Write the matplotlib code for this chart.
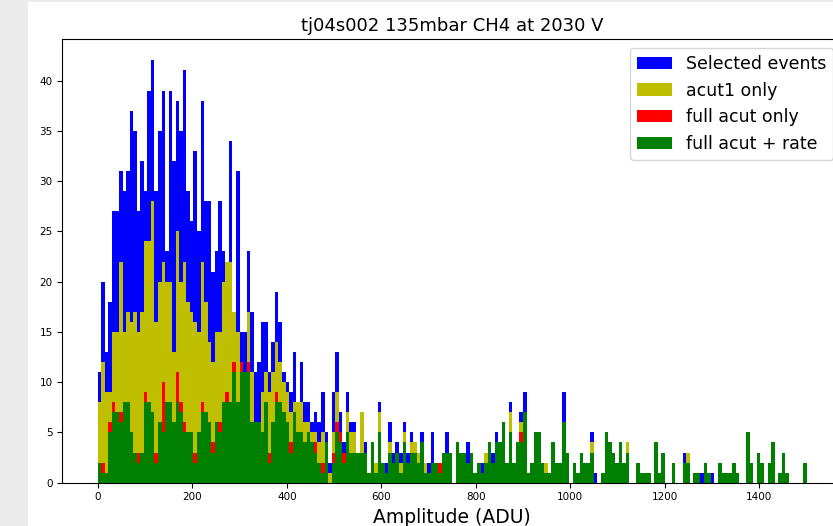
import numpy as np
import matplotlib
matplotlib.use("Agg")
import matplotlib.pyplot as plt
from matplotlib.patches import Rectangle

# histogram binning: 200 bins over 0..1500 ADU
bin_lo, bin_hi, n_bins = 0, 1500, 200

selected = [11,20,13,18,27,27,31,29,31,37,35,27,32,29,39,42,29,35,39,23,
            39,32,38,35,41,29,26,33,25,38,28,28,21,23,28,23,22,34,17,31,
            15,15,23,17,11,12,16,16,11,14,19,16,11,10,9,13,8,12,8,8,
            6,7,6,9,5,2,9,13,7,4,9,6,6,3,7,4,1,4,2,8,
            2,2,6,3,4,3,6,3,5,4,3,5,2,2,5,2,2,3,5,3,
            0,4,3,3,4,3,1,2,2,3,4,3,5,4,6,2,8,2,4,7,
            9,1,2,5,5,2,2,1,4,2,2,9,3,0,2,1,3,2,2,5,
            1,0,1,5,4,3,2,4,2,4,0,0,2,1,1,1,0,4,1,3,
            0,0,2,0,0,3,3,0,1,1,1,2,1,1,0,2,1,1,1,2,
            1,0,0,5,2,0,3,2,0,2,4,0,1,3,1,0,0,0,0,2]

acut1 = [8,12,9,9,15,15,22,15,17,16,17,15,17,24,24,28,16,20,22,20,
         20,13,25,20,22,18,17,16,15,22,18,14,12,15,15,20,22,22,17,15,
         11,11,17,11,6,6,9,11,9,11,14,12,10,9,7,8,8,8,6,6,
         5,5,4,5,4,1,5,9,5,2,7,5,5,3,7,3,1,4,2,7,
         2,1,4,2,3,2,5,2,4,4,3,4,2,1,2,2,2,3,3,3,
         0,4,3,3,2,3,1,2,1,3,4,2,4,4,6,2,7,2,4,6,
         7,1,2,5,5,2,2,1,4,2,2,6,3,0,2,1,3,2,2,4,
         0,0,1,5,4,3,2,4,2,4,0,0,2,1,1,1,0,4,1,3,
         0,0,2,0,0,2,3,0,1,1,0,2,1,0,0,2,1,1,1,2,
         1,0,0,5,2,0,3,2,0,2,4,0,1,3,1,0,0,0,0,2]

full_acut = [2,2,1,6,8,7,7,8,8,5,3,3,3,9,8,7,3,6,10,8,
             8,6,11,8,6,5,5,3,5,8,7,6,4,6,6,8,9,8,12,8,
             12,11,12,6,6,6,5,8,3,6,9,8,7,6,4,7,5,5,4,5,
             4,4,2,2,4,0,3,6,5,3,5,3,3,3,3,3,1,4,1,5,
             2,1,3,2,3,1,4,2,3,3,2,4,1,1,2,2,2,3,3,3,
             0,4,3,3,2,3,1,2,1,2,4,2,4,4,6,2,5,2,4,5,
             7,1,2,5,5,2,1,1,4,2,2,6,3,0,2,1,3,2,2,3,
             0,0,1,5,4,3,2,4,2,3,0,0,2,1,1,1,0,4,1,3,
             0,0,2,0,0,2,2,0,1,1,0,2,1,0,0,2,1,1,1,2,
             1,0,0,5,2,0,3,2,0,2,4,0,1,3,1,0,0,0,0,2]

full_acut_rate = [2,1,1,5,7,7,6,8,8,5,3,2,3,8,8,7,2,6,5,8,
                  8,6,8,7,5,5,5,2,5,7,7,6,3,6,5,8,8,8,11,8,
                  11,11,11,6,6,6,5,8,2,6,8,8,7,6,3,7,5,5,4,5,
                  4,3,2,1,4,0,2,5,4,2,5,3,3,3,3,3,1,4,1,5,
                  2,1,3,2,3,1,4,2,3,3,2,4,1,1,2,2,1,3,3,3,
                  0,4,3,3,2,3,1,2,1,2,4,2,4,4,6,2,5,2,4,4,
                  7,1,2,5,5,2,1,1,4,2,2,6,3,0,2,1,3,2,2,3,
                  0,0,1,5,4,3,2,4,2,3,0,0,2,1,1,1,0,4,1,3,
                  0,0,2,0,0,2,2,0,1,1,0,2,1,0,0,2,1,1,1,2,
                  1,0,0,5,2,0,3,2,0,2,4,0,1,3,1,0,0,0,0,2]

labels = ["Selected events", "acut1 only", "full acut only", "full acut + rate"]
colors = ["b", "y", "r", "g"]
title = "tj04s002 135mbar CH4 at 2030 V"
xlabel = "Amplitude (ADU)"

edges = np.linspace(bin_lo, bin_hi, n_bins + 1)
width = edges[1] - edges[0]

fig = plt.figure(figsize=(8.33, 5.26), dpi=100)
fig.patch.set_facecolor("white")
fig.patches.append(Rectangle((0, 0), 28 / 833, 1, transform=fig.transFigure,
                             facecolor="#ebebeb", edgecolor="none", zorder=-1))
fig.patches.append(Rectangle((0, 1 - 2 / 526), 1, 2 / 526, transform=fig.transFigure,
                             facecolor="#ebebeb", edgecolor="none", zorder=-1))

ax = fig.add_axes([62.3 / 833, 43.3 / 526, (842 - 62.3) / 833, (482.7 - 39.3) / 526])

for series, lab, col in zip([selected, acut1, full_acut, full_acut_rate], labels, colors):
    ax.bar(edges[:-1], series, width=width, align="edge", color=col, label=lab,
           linewidth=0)

ax.set_xticks(np.arange(0, 1401, 200))
ax.set_yticks(np.arange(0, 41, 5))
ax.tick_params(labelsize=7.5)
ax.set_title(title, fontsize=13)
ax.set_xlabel(xlabel, fontsize=13.5)
ax.legend(loc="upper right", fontsize=12.5)

fig.savefig("out.png", dpi=100)
